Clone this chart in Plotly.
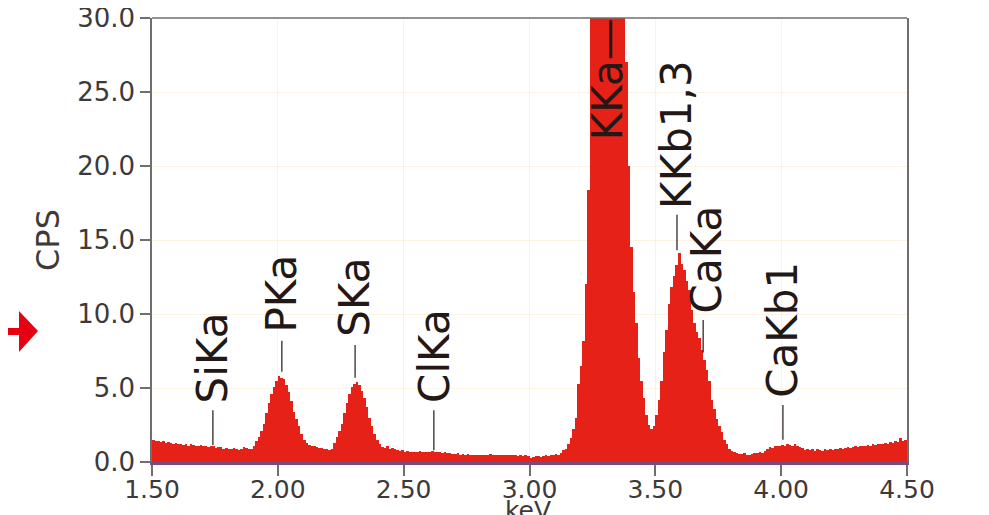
import plotly.graph_objects as go

# EDX spectrum: channel start energies (keV), 0.01 keV channels from 1.50 to 4.49
channel_start = 1.50
channel_width = 0.01
cps = [
    1.5, 1.4, 1.45, 1.35, 1.4, 1.3, 1.35, 1.3, 1.25, 1.3,
    1.2, 1.25, 1.15, 1.2, 1.1, 1.2, 1.15, 1.1, 1.05, 1.15,
    1.05, 1.1, 1.0, 1.05, 1.1, 0.95, 1.0, 1.0, 0.9, 0.95,
    0.9, 0.85, 0.95, 0.9, 0.8, 0.85, 1.0, 0.95, 0.85, 0.9,
    1.05, 1.4, 1.7, 2.1, 2.6, 3.3, 4.0, 4.6, 5.1, 5.5,
    5.8, 5.7, 5.6, 5.2, 4.7, 4.1, 3.4, 2.9, 2.4, 1.9,
    1.5, 1.3, 1.15, 1.1, 1.05, 1.0, 0.95, 0.95, 0.9, 0.85,
    0.8, 0.85, 1.3, 1.7, 2.1, 2.6, 3.3, 4.0, 4.6, 5.1,
    5.3, 5.4, 5.2, 4.8, 4.3, 3.7, 3.0, 2.4, 1.9, 1.5,
    1.2, 1.0, 0.95, 1.05, 0.9, 0.95, 0.85, 0.8, 0.75, 0.8,
    0.7, 0.75, 0.65, 0.7, 0.7, 0.65, 0.75, 0.7, 0.65, 0.7,
    0.7, 0.75, 0.7, 0.65, 0.7, 0.6, 0.65, 0.6, 0.6, 0.55,
    0.55, 0.6, 0.5, 0.55, 0.5, 0.55, 0.5, 0.45, 0.5, 0.5,
    0.45, 0.5, 0.5, 0.45, 0.55, 0.45, 0.5, 0.45, 0.5, 0.45,
    0.45, 0.5, 0.45, 0.45, 0.5, 0.4, 0.45, 0.4, 0.45, 0.4,
    0.3, 0.35, 0.4, 0.4, 0.35, 0.4, 0.45, 0.4, 0.45, 0.5,
    0.55, 0.5, 0.6, 0.8, 0.9, 1.2, 1.6, 2.2, 3.0, 5.3,
    6.5, 8.2, 12.0, 18.4, 33, 38, 42, 45, 46, 46,
    46, 45, 43, 40, 37, 35, 33, 31, 27, 20,
    14.5, 11.5, 9.4, 7.0, 5.5, 4.3, 3.2, 2.5, 2.2, 2.4,
    3.2, 4.2, 5.5, 7.4, 8.9, 10.7, 11.8, 12.6, 13.3, 14.1,
    13.4, 13.0, 12.2, 11.6, 10.3, 9.4, 8.8, 8.4, 7.6, 6.9,
    6.2, 5.5, 4.2, 3.6, 2.9, 2.4, 2.0, 1.5, 1.2, 0.9,
    0.75, 0.65, 0.6, 0.55, 0.55, 0.6, 0.5, 0.5, 0.55, 0.6,
    0.6, 0.65, 0.6, 0.75, 0.9, 1.0, 0.95, 1.05, 1.1, 1.1,
    1.15, 1.1, 1.2, 1.15, 1.1, 1.2, 1.05, 1.0, 0.95, 0.8,
    0.85, 0.8, 0.9, 0.75, 0.85, 0.8, 0.75, 0.85, 0.8, 0.85,
    0.8, 0.9, 0.85, 0.95, 0.9, 0.95, 1.0, 0.95, 1.0, 1.05,
    1.0, 1.1, 1.05, 1.1, 1.15, 1.1, 1.2, 1.15, 1.2, 1.25,
    1.2, 1.3, 1.25, 1.35, 1.3, 1.4, 1.35, 1.6, 1.45, 1.5,
]
energy = [round(channel_start + channel_width * i, 2) for i in range(len(cps))]

# Peak identification labels
peak_names = ["SiKa", "PKa", "SKa", "ClKa", "KKa—", "KKb1,3", "CaKa", "CaKb1"]
peak_energy = [1.742, 2.016, 2.307, 2.620, 3.308, 3.586, 3.690, 4.007]
text_energy = [1.742, 2.016, 2.307, 2.620, 3.308, 3.586, 3.705, 4.007]
leader_low = [1.15, 6.1, 5.7, 0.8, None, 14.3, 7.4, 1.5]
leader_high = [3.5, 8.2, 7.9, 3.5, None, 16.7, 9.6, 3.85]
text_base = [3.85, 8.6, 8.3, 3.85, 21.6, 17.0, 9.9, 4.2]

y_ticks = [0, 5, 10, 15, 20, 25, 30]
x_ticks = [1.5, 2.0, 2.5, 3.0, 3.5, 4.0, 4.5]

RED = "#e62117"
TXT = "#231815"
GRID = "#fbf2e2"
FONT = "DejaVu Sans"

fig = go.Figure()
fig.add_trace(go.Bar(
    x=energy, y=cps, width=channel_width, offset=0,
    marker=dict(color=RED, line=dict(width=0)),
    hoverinfo="x+y",
))

shapes = []
annotations = []
for name, pe, te, lo, hi, tb in zip(peak_names, peak_energy, text_energy,
                                    leader_low, leader_high, text_base):
    if lo is not None:
        shapes.append(dict(type="line", xref="x", yref="y", x0=pe, x1=pe,
                           y0=lo, y1=hi, line=dict(color=TXT, width=1.2)))
    annotations.append(dict(x=te, y=tb, xref="x", yref="y", text=name,
                            textangle=-90, showarrow=False,
                            xanchor="center", yanchor="bottom",
                            font=dict(family=FONT, size=42, color=TXT)))

# top border
shapes.append(dict(type="line", xref="paper", yref="paper", x0=0, x1=1,
                   y0=1, y1=1, line=dict(color="#6f6f6f", width=1.5)))

# plot area in page pixels: x 152..907, y 18..462
def px(xp):
    return (xp - 152) / 755.0

def py(yp):
    return (462 - yp) / 444.0

# red arrow at left
arrow_pts = [(0, 328), (19, 328), (19, 311), (38, 331), (19, 352), (19, 335), (0, 335)]
path = "M " + " L ".join(f"{px(a):.5f},{py(b):.5f}" for a, b in arrow_pts) + " Z"
shapes.append(dict(type="path", xref="paper", yref="paper", path=path,
                   fillcolor="#e60012", line=dict(width=0)))

annotations.append(dict(x=2.995, y=py(494), xref="x", yref="paper", text="keV",
                        showarrow=False, xanchor="center", yanchor="top",
                        font=dict(family=FONT, size=25, color="#3e3a39")))

# page body has an 8px margin, so the figure is 8px smaller than the window
fig.update_layout(
    width=981, height=507,
    margin=dict(l=144, r=82, t=10, b=53, autoexpand=False),
    paper_bgcolor="white", plot_bgcolor="white",
    showlegend=False, bargap=0,
    shapes=shapes, annotations=annotations,
    font=dict(family=FONT, color="#3e3a39"),
)
fig.update_xaxes(
    range=[1.5, 4.5], tickvals=x_ticks, tickformat=".2f",
    ticks="outside", ticklen=11, tickcolor="#6f6f6f", tickwidth=1.5,
    showline=True, linecolor="#7a4a7c", linewidth=2.5,
    showgrid=True, gridcolor=GRID, gridwidth=1,
    tickfont=dict(family=FONT, size=25, color="#3e3a39"),
    ticklabelstandoff=-8,
    zeroline=False, automargin=False, ticklabeloverflow="allow",
)
fig.update_yaxes(
    range=[0, 30], tickvals=y_ticks, tickformat=".1f",
    ticks="outside", ticklen=10, tickcolor="#6f6f6f", tickwidth=1.5,
    showline=True, linecolor="#6f6f6f", linewidth=1.5, mirror=True,
    showgrid=True, gridcolor=GRID, gridwidth=1,
    tickfont=dict(family=FONT, size=26, color="#3e3a39"),
    title=dict(text="CPS", font=dict(family=FONT, size=32, color="#3e3a39"), standoff=8),
    zeroline=False, automargin=False, ticklabeloverflow="allow",
)

fig.write_html("out.html")
